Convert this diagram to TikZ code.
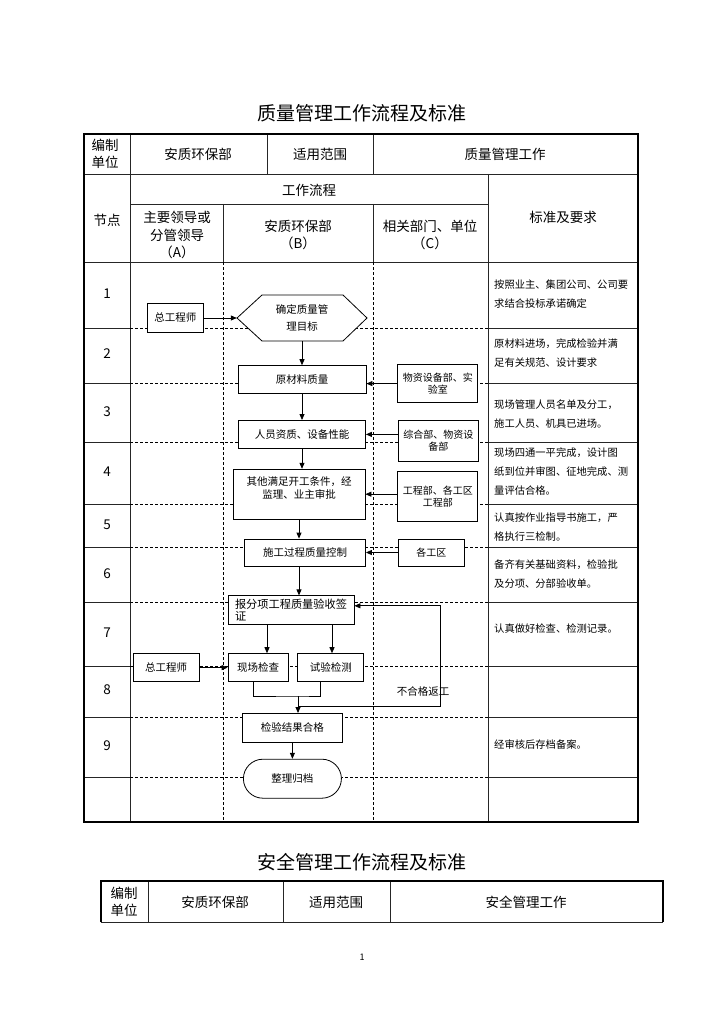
\documentclass[tikz,border=0pt]{standalone}
\usepackage{fontspec}
\setmainfont{Noto Sans CJK SC}
\usepackage{tikz}
\usetikzlibrary{arrows.meta, positioning, shapes.misc}
\tikzstyle{block} = [rectangle, draw=black, fill=white, line width=0.8pt, inner sep=1pt,
    align=center, font=\fontsize{10.5}{13}\selectfont]
\tikzstyle{sidebox} = [block, minimum width=80pt, font=\fontsize{10}{12}\selectfont]
\tikzstyle{txt} = [align=center, inner sep=1pt, font=\fontsize{10.5}{17}\selectfont]
\tikzstyle{hdr} = [align=center, inner sep=1pt, font=\fontsize{13.5}{17.5}\selectfont]
\tikzstyle{std} = [align=left, anchor=west, inner sep=0pt, font=\fontsize{10.3}{19}\selectfont]
\tikzstyle{tline} = [line width=0.8pt, black!85]
\tikzstyle{dline} = [line width=0.9pt, black, dash pattern=on 3pt off 2pt]
\tikzstyle{thickrule} = [line width=2.6pt]
\tikzstyle{arrow} = [line width=0.8pt,->,>={Triangle[length=6pt,width=5pt]}]

\begin{document}
\begin{tikzpicture}[x=1pt, y=-1pt]
  \useasboundingbox (0,0) rectangle (724,1024);

  % --- table 1 ---
  \node (title1) [font=\fontsize{19}{22}\selectfont] at (362,113) {质量管理工作流程及标准};
  \draw[tline] (84,174) -- (638,174);
  \draw[tline] (130,204) -- (488,204);
  \draw[tline] (84,262) -- (638,262);
  \draw[tline] (130,134) -- (130,822);
  \draw[tline] (267,134) -- (267,174);
  \draw[tline] (373,134) -- (373,174) (373,204) -- (373,262) (223,204) -- (223,262);
  \draw[tline] (488,174) -- (488,822);
  \foreach \y in {328,383,442,504,547,602,666,717,777} {
    \draw[tline] (84,\y) -- (130,\y) (488,\y) -- (638,\y);
    \draw[dline] (130,\y) -- (488,\y);
  }
  \draw[dline] (223,262) -- (223,822) (373,262) -- (373,822);
  \draw[thickrule] (84,134) rectangle (638,822);

  \node (unit1)  [hdr] at (105,154) {编制\\单位};
  \node (dept1)  [hdr] at (198,154) {安质环保部};
  \node (scope1) [hdr] at (320,154) {适用范围};
  \node (work1)  [hdr] at (505,154) {质量管理工作};
  \node (nodes)  [hdr] at (107,220) {节点};
  \node (flow)   [hdr] at (309,190) {工作流程};
  \node (colA)   [hdr] at (177,235) {主要领导或\\分管领导\\（A）};
  \node (colB)   [hdr] at (298,235) {安质环保部\\（B）};
  \node (colC)   [hdr] at (430,235) {相关部门、单位\\（C）};
  \node (stdhd)  [hdr] at (563,217) {标准及要求};
  \foreach \n/\y in {1/294,2/354,3/412,4/472,5/525,6/574,7/633,8/690,9/746}
    \node (row\n) [hdr] at (107,\y) {\n};

  % standards
  \node (std1) [std] at (494,294) {按照业主、集团公司、公司要\\求结合投标承诺确定};
  \node (std2) [std] at (494,353) {原材料进场，完成检验并满\\足有关规范、设计要求};
  \node (std3) [std] at (494,414) {现场管理人员名单及分工，\\施工人员、机具已进场。};
  \node (std4) [std] at (494,472) {现场四通一平完成，设计图\\纸到位并审图、征地完成、测\\量评估合格。};
  \node (std5) [std] at (494,527) {认真按作业指导书施工，严\\格执行三检制。};
  \node (std6) [std] at (494,574) {备齐有关基础资料，检验批\\及分项、分部验收单。};
  \node (std7) [std] at (494,629) {认真做好检查、检测记录。};
  \node (std9) [std] at (494,745) {经审核后存档备案。};

  % flow
  \draw[line width=0.8pt, fill=white] (237,318) -- (262,295) -- (343,295) -- (367,318)
    -- (343,341) -- (262,341) -- cycle;
  \node (goal)    [txt, minimum width=130pt, minimum height=46pt] at (302,318) {确定质量管\\理目标};
  \node (raw)     [block, minimum width=128pt, minimum height=28pt, below=24pt of goal] {原材料质量};
  \node (staff)   [block, minimum width=127pt, minimum height=28pt, below=26pt of raw] {人员资质、设备性能};
  \node (other)   [block, minimum width=132pt, minimum height=50pt, below=20pt of staff, xshift=-3pt]
    {其他满足开工条件，经\\监理、业主审批\\ \mbox{}};
  \node (ctrl)    [block, minimum width=121pt, minimum height=27pt, below=19pt of other, xshift=6pt] {施工过程质量控制};
  \node (report)  [block, align=left, minimum width=126pt, minimum height=29pt, below=29pt of ctrl, xshift=-14pt,
    font=\fontsize{11.2}{12}\selectfont] {报分项工程质量验收签\\证};
  \node (site)    [block, minimum width=60pt, minimum height=28pt, below=28pt of report.south west, anchor=north west] {现场检查};
  \node (test)    [block, minimum width=66pt, minimum height=28pt, right=9pt of site] {试验检测};
  \node (check)   [block, minimum width=100pt, minimum height=29pt, below=31pt of site.south east, xshift=4pt] {检验结果合格};
  \node (archive) [block, rounded rectangle, minimum width=100pt, minimum height=39pt, below=16pt of check] {整理归档};

  \node (chief1)  [block, minimum width=56pt, minimum height=29pt, left=33pt of goal] {总工程师};
  \node (chief2)  [block, minimum width=66pt, minimum height=28pt, left=28pt of site] {总工程师};
  \node (supply)  [sidebox, minimum height=38pt, right=31pt of raw, yshift=-4pt] {物资设备部、实\\验室};
  \node (admin)   [sidebox, minimum height=41pt, right=32pt of staff, yshift=-6.5pt] {综合部、物资设\\备部};
  \node (eng)     [sidebox, minimum height=50pt, right=32pt of other, yshift=-2pt] {工程部、各工区\\工程部};
  \node (zones)   [sidebox, minimum width=66pt, minimum height=27pt, right=32pt of ctrl] {各工区};
  \node (fail)    [txt] at (423,691) {不合格返工};

  \coordinate (merge) at (298,696);
  \coordinate (rework) at (440,706);

  \draw[arrow] (chief1) -- (goal.west);
  \draw[arrow] (goal) -- (raw);
  \draw[arrow] (raw) -- (staff);
  \draw[arrow] (staff) -- (staff |- other.north);
  \draw[arrow] (other) -- (other |- ctrl.north);
  \draw[arrow] (ctrl.south -| other) -- (other |- report.north);
  \draw[arrow] ([xshift=-24pt]report.south) -- ([xshift=-24pt]report.south |- site.north);
  \draw[arrow] ([xshift=41pt]report.south) -- ([xshift=41pt]report.south |- test.north);
  \draw[arrow] (chief2) -- (site);
  \draw[line width=0.8pt] ([xshift=-5pt]site.south) |- (merge) -| ([xshift=-10pt]test.south);
  \draw[arrow] (merge) -- (merge |- check.north);
  \draw[arrow] (merge |- rework) -- (rework) |- ([yshift=4.5pt]report.east);
  \draw[arrow] (check) -- (archive);
  \draw[arrow] (supply) -- (supply -| raw.east);
  \draw[arrow] (admin.west |- staff) -- (staff);
  \draw[arrow] (eng.west |- other) -- (other);
  \draw[arrow] (zones) -- (ctrl);

  % --- table 2 ---
  \node (title2) [font=\fontsize{19}{22}\selectfont] at (362,862) {安全管理工作流程及标准};
  \draw[tline] (148,881) -- (148,922) (283,881) -- (283,922) (390,881) -- (390,922) (101,922) -- (663,922);
  \draw[thickrule] (101,922) -- (101,881) -- (663,881) -- (663,922);
  \node (unit2)  [hdr] at (124,902) {编制\\单位};
  \node (dept2)  [hdr] at (215,902) {安质环保部};
  \node (scope2) [hdr] at (336,902) {适用范围};
  \node (work2)  [hdr] at (526,902) {安全管理工作};
  \node (page)   [font=\fontsize{9}{10}\selectfont] at (362,957) {1};
\end{tikzpicture}
\end{document}
